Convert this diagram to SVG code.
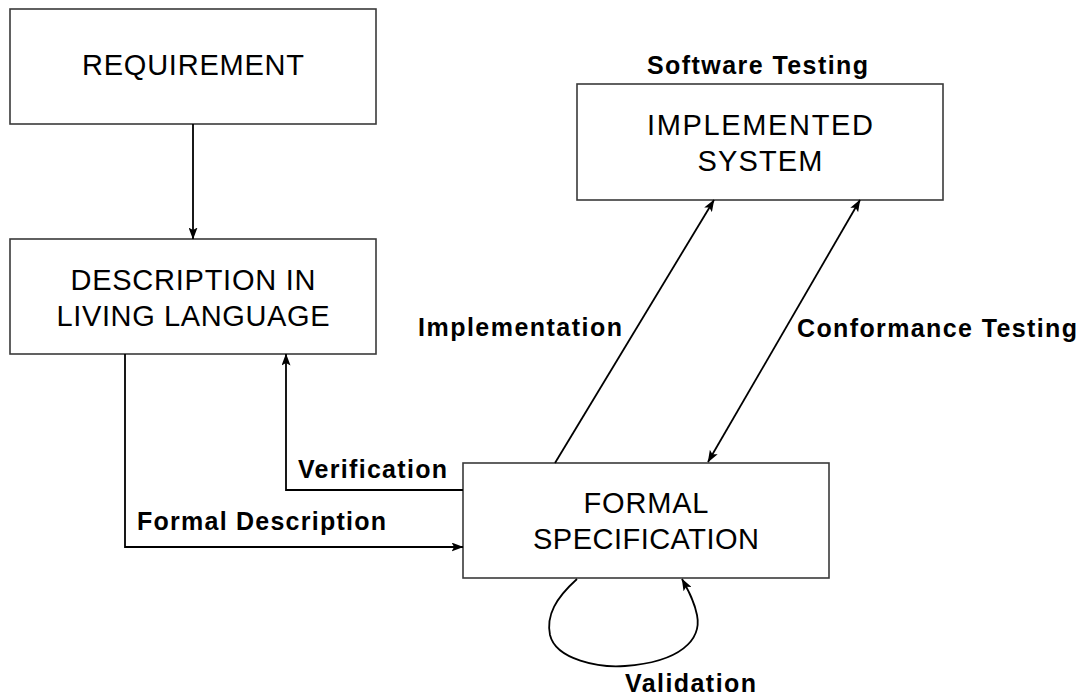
<svg xmlns="http://www.w3.org/2000/svg" width="1083" height="697" viewBox="0 0 1083 697">
  <style>
    .box { fill: #ffffff; stroke: #3a3a3a; stroke-width: 1.6; }
    .node-text { font-family: "Liberation Sans", Arial, sans-serif; font-size: 29px; fill: #000; text-anchor: middle; }
    .label { font-family: "Liberation Sans", Arial, sans-serif; font-size: 25px; font-weight: bold; fill: #000; }
    .edge { fill: none; stroke: #000; stroke-width: 1.8; }
  </style>
  <defs>
    <marker id="arrow" viewBox="0 0 12 9" refX="11.5" refY="4.5" markerWidth="12" markerHeight="9" markerUnits="userSpaceOnUse" orient="auto-start-reverse">
      <path d="M0,0 L12,4.5 L0,9 L2.6,4.5 z" fill="#000"/>
    </marker>
  </defs>
  <rect width="1083" height="697" fill="#ffffff"/>

  <!-- nodes -->
  <g id="requirement">
    <rect class="box" x="10" y="9" width="366" height="115"/>
    <text class="node-text" x="193" y="75" textLength="222" lengthAdjust="spacing">REQUIREMENT</text>
  </g>
  <g id="description">
    <rect class="box" x="10" y="239" width="366" height="115"/>
    <text class="node-text" x="193" y="290" textLength="245" lengthAdjust="spacing">DESCRIPTION IN</text>
    <text class="node-text" x="193" y="326" textLength="273" lengthAdjust="spacing">LIVING LANGUAGE</text>
  </g>
  <g id="implemented">
    <rect class="box" x="577" y="84" width="366" height="116"/>
    <text class="node-text" x="760" y="135" textLength="226" lengthAdjust="spacing">IMPLEMENTED</text>
    <text class="node-text" x="760" y="171" textLength="125" lengthAdjust="spacing">SYSTEM</text>
  </g>
  <g id="formal-spec">
    <rect class="box" x="463" y="463" width="366" height="115"/>
    <text class="node-text" x="646" y="513" textLength="125" lengthAdjust="spacing">FORMAL</text>
    <text class="node-text" x="646" y="549" textLength="226" lengthAdjust="spacing">SPECIFICATION</text>
  </g>

  <!-- connectors -->
  <g id="connectors">
    <line class="edge" x1="193" y1="124" x2="193" y2="239" marker-end="url(#arrow)"/>
    <path class="edge" d="M125,354 V547 H463" marker-end="url(#arrow)"/>
    <path class="edge" d="M463,490 H286 V354" marker-end="url(#arrow)"/>
    <line class="edge" x1="555" y1="463" x2="714" y2="200" marker-end="url(#arrow)"/>
    <line class="edge" x1="708" y1="462" x2="860" y2="200" marker-start="url(#arrow)" marker-end="url(#arrow)"/>
    <path class="edge" d="M577,579 C556,598 546,615 550,635 C556,660 600,668 625,666 C680,662 702,640 697,615 C694,600 688,590 682,579" marker-end="url(#arrow)"/>
  </g>

  <!-- edge labels -->
  <g id="labels">
    <text class="label" x="647" y="74" textLength="221" lengthAdjust="spacing">Software Testing</text>
    <text class="label" x="418" y="336" textLength="204" lengthAdjust="spacing">Implementation</text>
    <text class="label" x="797" y="337" textLength="280" lengthAdjust="spacing">Conformance Testing</text>
    <text class="label" x="298" y="478" textLength="149" lengthAdjust="spacing">Verification</text>
    <text class="label" x="137" y="530" textLength="249" lengthAdjust="spacing">Formal Description</text>
    <text class="label" x="625" y="692" textLength="131" lengthAdjust="spacing">Validation</text>
  </g>
</svg>
